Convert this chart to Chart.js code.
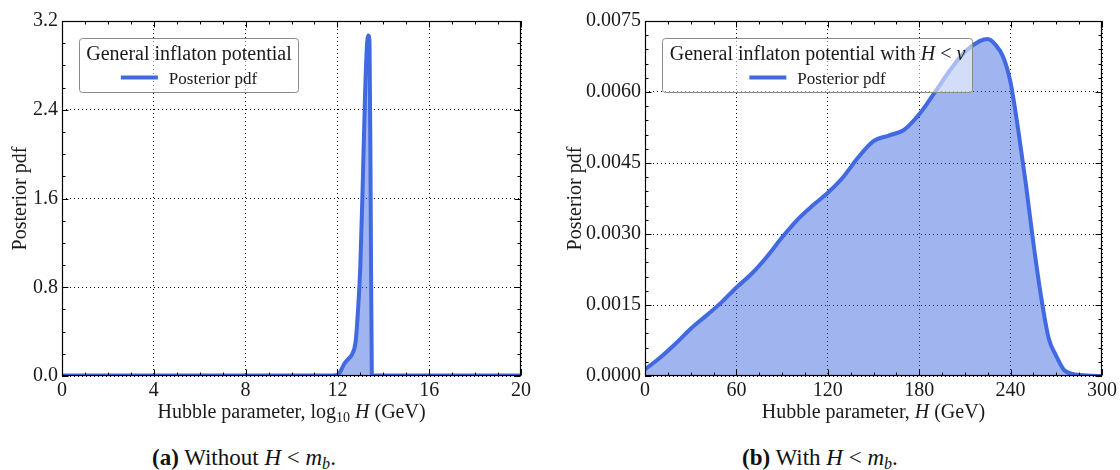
<!DOCTYPE html>
<html>
<head>
<meta charset="utf-8">
<script src="https://cdn.jsdelivr.net/npm/chart.js@4.4.1/dist/chart.umd.min.js"></script>
<style>
  html, body { margin: 0; padding: 0; background: #fff; }
  body { width: 1120px; height: 470px; position: relative; overflow: hidden; font-family: "Liberation Serif", serif; }
  .panel { position: absolute; top: 0; }
  #panelA { left: 0; }
  #panelB { left: 560px; }
  .caption { position: absolute; top: 446px; font-size: 23px; line-height: 23px; color: #111; white-space: nowrap; }
  .caption sub { font-size: 0.7em; line-height: 0; vertical-align: -0.25em; }
</style>
</head>
<body>
<div class="panel" id="panelA"><canvas id="chartA" width="540" height="430"></canvas></div>
<div class="panel" id="panelB"><canvas id="chartB" width="560" height="430"></canvas></div>
<div class="caption" style="left:152px"><b>(a)</b> Without <i>H</i> &lt; <i>m<sub>b</sub></i>.</div>
<div class="caption" style="left:742px"><b>(b)</b> With <i>H</i> &lt; <i>m<sub>b</sub></i>.</div>

<script>
// --- data ---
// (a) posterior of log10 H, no bound
const logH = [0, 2, 4, 6, 8, 10, 11.5, 12.0, 12.1, 12.3, 12.5, 12.65, 12.8, 12.9, 13.0, 13.1, 13.2, 13.28, 13.35, 13.4, 13.45, 13.5, 13.55, 14, 16, 18, 20];
const pdfA = [0.005, 0.005, 0.005, 0.005, 0.005, 0.005, 0.005, 0.01, 0.03, 0.11, 0.16, 0.2, 0.32, 0.6, 1.0, 1.7, 2.5, 2.95, 3.07, 3.0, 1.6, 0.02, 0.005, 0.005, 0.005, 0.005, 0.005];

// (b) posterior of H with H < v
const hubbleH = [0, 10, 20, 30, 40, 50, 60, 70, 80, 90, 100, 110, 120, 130, 140, 150, 160, 170, 180, 190, 200, 210, 220, 225, 230, 235, 240, 245, 250, 255, 260, 265, 270, 275, 280, 290, 300];
const pdfB = [0.00014, 0.00039, 0.00068, 0.00100, 0.00127, 0.00155, 0.00187, 0.00216, 0.00252, 0.00293, 0.00330, 0.00360, 0.00387, 0.00420, 0.00462, 0.00496, 0.00508, 0.00520, 0.00553, 0.00598, 0.00645, 0.00685, 0.00708, 0.00712, 0.00700, 0.00675, 0.00620, 0.00520, 0.00406, 0.00280, 0.00168, 0.00080, 0.00042, 0.00013, 0.00005, 0.00001, 0.0];

const xTicksA = [0, 20, 4];        // min, max, step
const yTicksA = [0, 3.2, 0.8];
const xTicksB = [0, 300, 60];
const yTicksB = [0, 0.0075, 0.0015];

const SERIF = '"Liberation Serif", "Times New Roman", serif';
const BLUE = '#4169e1';
const INK = '#1a1a1a';

// extra per-panel drawing setup (titles, minor ticks, legend)
const panelCfg = {
  chartA: {
    xMinor: 1, yMinor: 0.2, yTitleX: 26,
    xTitle: [
      { t: 'Hubble parameter, log', f: '20px ' + SERIF },
      { t: '10', f: '14px ' + SERIF, dy: 4 },
      { t: ' ', f: '20px ' + SERIF },
      { t: 'H', f: 'italic 20px ' + SERIF },
      { t: ' (GeV)', f: '20px ' + SERIF },
    ],
    legendTitle: [{ t: 'General inflaton potential', f: '20px ' + SERIF }],
  },
  chartB: {
    xMinor: 15, yMinor: 0.0003, yTitleX: 21,
    xTitle: [
      { t: 'Hubble parameter, ', f: '20px ' + SERIF },
      { t: 'H', f: 'italic 20px ' + SERIF },
      { t: ' (GeV)', f: '20px ' + SERIF },
    ],
    legendTitle: [
      { t: 'General inflaton potential with ', f: '20px ' + SERIF },
      { t: 'H', f: 'italic 20px ' + SERIF },
      { t: ' < ', f: '20px ' + SERIF },
      { t: 'v', f: 'italic 20px ' + SERIF },
    ],
  },
};

function richWidth(ctx, parts) {
  let w = 0;
  parts.forEach((p) => { ctx.font = p.f; w += ctx.measureText(p.t).width; });
  return w;
}

function richText(ctx, parts, x, y) {
  // x is the centre
  let cx = x - richWidth(ctx, parts) / 2;
  ctx.textAlign = 'left';
  ctx.textBaseline = 'alphabetic';
  parts.forEach((p) => {
    ctx.font = p.f;
    ctx.fillText(p.t, cx, y + (p.dy || 0));
    cx += ctx.measureText(p.t).width;
  });
}

const isMajor = (v, step) => Math.abs(v / step - Math.round(v / step)) < 1e-6;

const framePlugin = {
  id: 'frame',
  afterDraw(chart) {
    const cfg = panelCfg[chart.canvas.id];
    const { ctx, chartArea: a, scales: { x, y } } = chart;
    const L = Math.round(a.left) + 0.5, R = Math.round(a.right) - 0.5;
    const T = Math.round(a.top) + 0.5, B = Math.round(a.bottom) - 0.5;
    ctx.save();
    ctx.strokeStyle = '#000';
    ctx.lineWidth = 1;
    ctx.beginPath();
    // inward ticks on all four sides
    for (let v = x.min; v <= x.max + 1e-9; v += cfg.xMinor) {
      const px = Math.round(x.getPixelForValue(v)) + 0.5;
      const len = isMajor(v, x.options.ticks.stepSize) ? 6 : 3;
      ctx.moveTo(px, B); ctx.lineTo(px, B - len);
      ctx.moveTo(px, T); ctx.lineTo(px, T + len);
    }
    for (let v = y.min; v <= y.max + 1e-12; v += cfg.yMinor) {
      const py = Math.round(y.getPixelForValue(v)) + 0.5;
      const len = isMajor(v, y.options.ticks.stepSize) ? 6 : 3;
      ctx.moveTo(L, py); ctx.lineTo(L + len, py);
      ctx.moveTo(R, py); ctx.lineTo(R - len, py);
    }
    ctx.stroke();
    ctx.lineWidth = 1.2;
    ctx.strokeRect(L, T, R - L, B - T);

    // legend box
    const tw = richWidth(ctx, cfg.legendTitle);
    const bw = Math.round(tw + 14), bh = 54;
    const bx = Math.round(a.left) + 17.5, by = Math.round(a.top) + 17.5;
    ctx.beginPath();
    if (ctx.roundRect) ctx.roundRect(bx, by, bw, bh, 3); else ctx.rect(bx, by, bw, bh);
    ctx.fillStyle = 'rgba(255,255,255,0.55)';
    ctx.fill();
    ctx.strokeStyle = '#8a8a8a';
    ctx.lineWidth = 1;
    ctx.stroke();
    ctx.fillStyle = INK;
    richText(ctx, cfg.legendTitle, bx + bw / 2, by + 21);
    ctx.font = '17px ' + SERIF;
    const label = chart.data.datasets[0].label;
    const ew = ctx.measureText(label).width;
    const total = 37 + 11 + ew;
    const ex = bx + bw / 2 - total / 2;
    ctx.beginPath();
    ctx.moveTo(ex, by + 39); ctx.lineTo(ex + 37, by + 39);
    ctx.strokeStyle = BLUE; ctx.lineWidth = 4;
    ctx.stroke();
    ctx.textAlign = 'left';
    ctx.textBaseline = 'alphabetic';
    ctx.fillText(label, ex + 48, by + 45);

    // axis titles
    ctx.fillStyle = INK;
    richText(ctx, cfg.xTitle, (a.left + a.right) / 2, 418);
    ctx.translate(cfg.yTitleX, (a.top + a.bottom) / 2);
    ctx.rotate(-Math.PI / 2);
    richText(ctx, [{ t: 'Posterior pdf', f: '20px ' + SERIF }], 0, 0);
    ctx.restore();
  },
};

function makeChart(id, xs, ys, xt, yt, yWidth, rightPad, decimals) {
  const ctx = document.getElementById(id).getContext('2d');
  return new Chart(ctx, {
    type: 'line',
    data: {
      datasets: [
        {
          label: 'Posterior pdf',
          data: xs.map((v, i) => ({ x: v, y: ys[i] })),
          borderColor: BLUE,
          backgroundColor: 'rgba(65,105,225,0.5)',
          borderWidth: 4,
          fill: 'origin',
          pointRadius: 0,
          cubicInterpolationMode: 'monotone',
        },
      ],
    },
    options: {
      responsive: false,
      animation: false,
      layout: { padding: { top: 21, right: rightPad, left: 0, bottom: 0 } },
      plugins: { legend: { display: false }, tooltip: { enabled: false } },
      scales: {
        x: {
          type: 'linear',
          min: xt[0], max: xt[1], z: 1,
          ticks: { stepSize: xt[2], color: INK, font: { family: SERIF, size: 20 }, padding: 3, maxRotation: 0, autoSkip: false },
          grid: { color: '#000', lineWidth: 1, drawTicks: false },
          border: { display: false, dash: [1, 3] },
          afterFit(s) { s.height = 54; },
        },
        y: {
          min: yt[0], max: yt[1], z: 1,
          ticks: {
            stepSize: yt[2], color: INK, font: { family: SERIF, size: 20 }, padding: 4, autoSkip: false,
            callback: (v) => Number(v).toFixed(decimals),
          },
          grid: { color: '#000', lineWidth: 1, drawTicks: false },
          border: { display: false, dash: [1, 3] },
          afterFit(s) { s.width = yWidth; },
        },
      },
    },
    plugins: [framePlugin],
  });
}

makeChart('chartA', logH, pdfA, xTicksA, yTicksA, 62, 19, 1);
makeChart('chartB', hubbleH, pdfB, xTicksB, yTicksB, 85, 16, 4);
</script>
</body>
</html>
